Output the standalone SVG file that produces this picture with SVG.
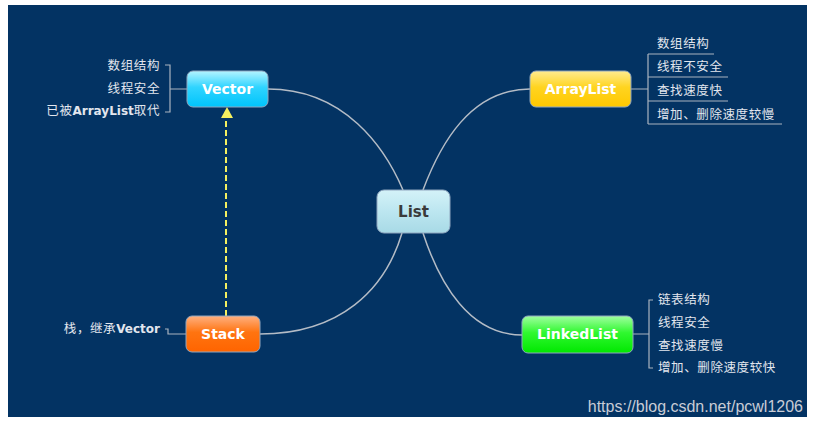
<svg xmlns="http://www.w3.org/2000/svg" width="813" height="425" viewBox="0 0 813 425">
<style>
.lbl{font-family:"Noto Sans CJK SC","Liberation Sans",sans-serif;font-size:12.5px;letter-spacing:0.6px;fill:#e2e6ee}
.lblb{font-family:"DejaVu Sans","Noto Sans CJK SC",sans-serif;font-size:12px;font-weight:bold;letter-spacing:0px;fill:#e2e6ee}
.node{font-family:"DejaVu Sans","Liberation Sans",sans-serif;font-size:14px;font-weight:bold;fill:#ffffff;text-anchor:middle}
.conn{fill:none;stroke:#b4bcc6;stroke-width:1.5}
.br{fill:none;stroke:#aab4c0;stroke-width:1.2}
.box{stroke:#8fa6bf;stroke-width:1}
</style>
<defs>
<linearGradient id="gV" x1="0" y1="0" x2="0" y2="1"><stop offset="0" stop-color="#b4f4ff"/><stop offset="0.45" stop-color="#30d4ff"/><stop offset="1" stop-color="#00c4fb"/></linearGradient>
<linearGradient id="gA" x1="0" y1="0" x2="0" y2="1"><stop offset="0" stop-color="#ffec90"/><stop offset="0.45" stop-color="#ffd420"/><stop offset="1" stop-color="#ffc800"/></linearGradient>
<linearGradient id="gL" x1="0" y1="0" x2="0" y2="1"><stop offset="0" stop-color="#a0ffa0"/><stop offset="0.45" stop-color="#30f830"/><stop offset="1" stop-color="#00e800"/></linearGradient>
<linearGradient id="gS" x1="0" y1="0" x2="0" y2="1"><stop offset="0" stop-color="#ffb080"/><stop offset="0.45" stop-color="#ff7410"/><stop offset="1" stop-color="#ff6400"/></linearGradient>
<linearGradient id="gC" x1="0" y1="0" x2="0" y2="1"><stop offset="0" stop-color="#d4f2f8"/><stop offset="0.5" stop-color="#bce6f0"/><stop offset="1" stop-color="#a8dae6"/></linearGradient>
</defs>
<rect x="0" y="0" width="813" height="425" fill="#ffffff"/>
<rect x="8" y="5" width="799" height="412" fill="#033363"/>

<g id="connectors">
<path class="conn" d="M268,89 C345,89 385,148 403,190"/>
<path class="conn" d="M423,190 C440,145 470,89 530,89"/>
<path class="conn" d="M423,233 C440,285 470,335 522,335"/>
<path class="conn" d="M402,233 C385,290 340,334 260,334"/>
<path d="M226,316 L226,117" fill="none" stroke="#f4f060" stroke-width="2" stroke-dasharray="6,3"/>
<polygon points="227,107 221,118 233,118" fill="#f4f060"/>
<path class="br" d="M165,65 L170,65 L170,112 L165,112 M170,89 L187,89"/>
<path class="br" d="M631,89 L648,89 M648,54 L714,54 M648,54 L648,124 M648,77 L728,77 M648,101 L728,101 M648,124 L782,124"/>
<path class="br" d="M633,334 L649,334 M653,300 L649,300 L649,368 L653,368"/>
<path class="br" d="M165,329 L168,329 L168,334 L186,334"/>
</g>

<g id="list">
<rect class="box" x="377" y="190" width="73" height="43" rx="7" fill="url(#gC)"/>
<text x="413.5" y="217" class="node" style="fill:#3a3a3a;font-size:15px">List</text>
</g>
<g id="vector">
<rect class="box" x="187" y="71" width="81" height="36" rx="6" fill="url(#gV)"/>
<text x="227.5" y="94" class="node">Vector</text>
<text x="160" y="70" class="lbl" text-anchor="end">数组结构</text>
<text x="160" y="93" class="lbl" text-anchor="end">线程安全</text>
<text x="160" y="115" class="lbl" text-anchor="end">已被<tspan class="lblb">ArrayList</tspan>取代</text>
</g>
<g id="arraylist">
<rect class="box" x="530" y="71" width="101" height="36" rx="6" fill="url(#gA)"/>
<text x="580.5" y="94" class="node">ArrayList</text>
<text x="657" y="48" class="lbl">数组结构</text>
<text x="657" y="71" class="lbl">线程不安全</text>
<text x="657" y="95" class="lbl">查找速度快</text>
<text x="657" y="119" class="lbl">增加、删除速度较慢</text>
</g>
<g id="linkedlist">
<rect class="box" x="522" y="316" width="111" height="37" rx="6" fill="url(#gL)"/>
<text x="577.5" y="339" class="node">LinkedList</text>
<text x="658" y="304" class="lbl">链表结构</text>
<text x="658" y="327" class="lbl">线程安全</text>
<text x="658" y="350" class="lbl">查找速度慢</text>
<text x="658" y="372" class="lbl">增加、删除速度较快</text>
</g>
<g id="stack">
<rect class="box" x="186" y="316" width="74" height="36" rx="6" fill="url(#gS)"/>
<text x="223" y="339" class="node">Stack</text>
<text x="160" y="333" class="lbl" text-anchor="end">栈，继承<tspan class="lblb">Vector</tspan></text>
</g>
<text x="803" y="412" font-family="Liberation Sans, sans-serif" font-size="16" fill="#c8ccd6" text-anchor="end">https://blog.csdn.net/pcwl1206</text>
</svg>
